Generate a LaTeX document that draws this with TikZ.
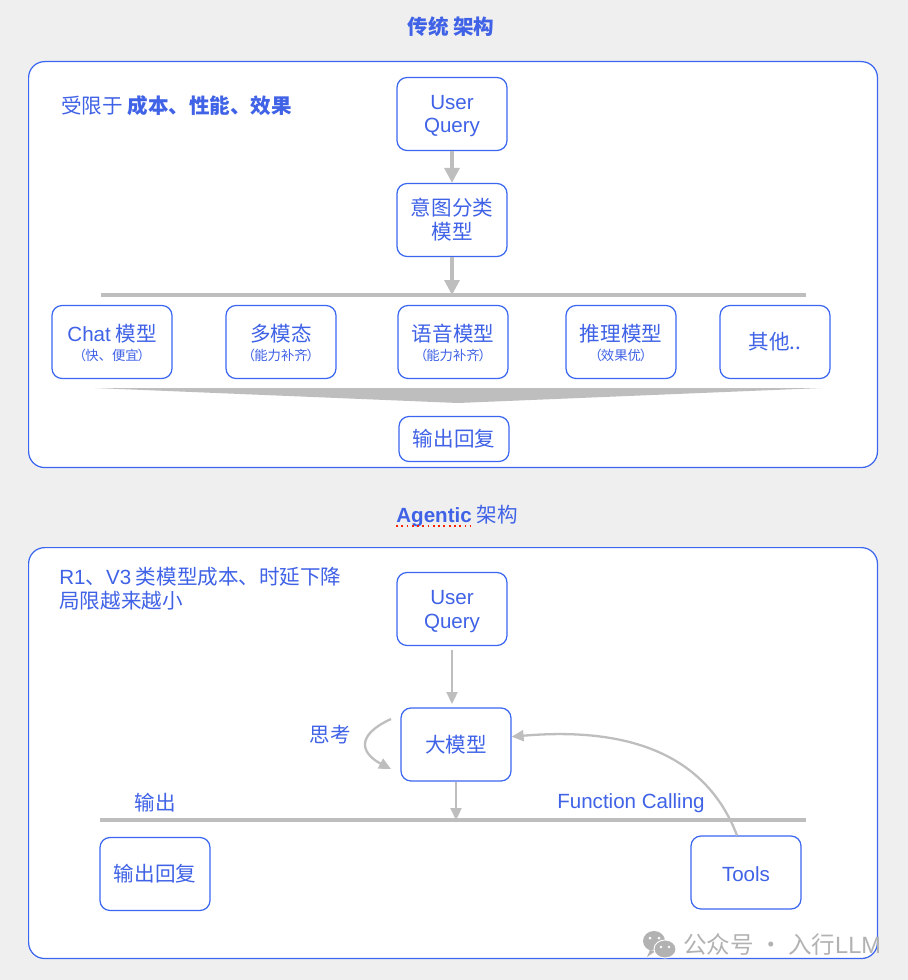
\documentclass[tikz,border=0pt]{standalone}
\usepackage{fontspec}
\setmainfont{Noto Sans CJK SC}
\newfontfamily\latinfont{Liberation Sans}
\usepackage{xcolor}
\usetikzlibrary{arrows.meta,positioning,calc}
\definecolor{lineblue}{HTML}{3B66F0}
\definecolor{textblue}{HTML}{3F62E6}
\definecolor{arrowgray}{HTML}{BEBEBE}
\definecolor{markgray}{HTML}{B2B2B2}
\definecolor{pagegray}{HTML}{EFEFEF}
\newcommand{\subtxt}[1]{{\fontsize{7.6}{9}\selectfont （\kern-0.6pt #1\kern-0.6pt ）}}
\newcommand{\lat}[1]{{\latinfont #1}}
\newcommand{\lowered}[1]{\raisebox{-1.2pt}[\height][\depth]{#1}}

\begin{document}
\begin{tikzpicture}[
        x=0.02cm, y=-0.02cm,
        panel/.style={rectangle, draw=lineblue, fill=white, line width=0.7pt, rounded corners=0.32cm, anchor=north west, inner sep=0pt},
        box/.style={rectangle, draw=lineblue, fill=white, line width=0.7pt, rounded corners=0.2cm, minimum width=2.2cm, minimum height=1.46cm, align=center, inner sep=0pt, text=textblue, font=\fontsize{11.7}{13.6}\selectfont},
        label/.style={text=textblue, inner sep=0pt, font=\fontsize{11.7}{13.6}\selectfont},
        heading/.style={text=textblue, inner sep=0pt, font=\fontsize{11.7}{13.6}\selectfont\bfseries},
        fatarrow/.style={-{Triangle[width=0.3cm,length=0.3cm]}, draw=arrowgray, line width=1.8pt},
        thinarrow/.style={-{Triangle[width=0.22cm,length=0.24cm]}, draw=arrowgray, line width=1.3pt},
        bar/.style={draw=arrowgray, line width=1.9pt}
    ]

    \fill[pagegray] (0,0) rectangle (908,980);
    \useasboundingbox (0,0) rectangle (908,980);

    % Upper panel
    \node[heading] (titleA) at (451,27) {传统 架构};
    \node[panel, minimum width=16.98cm, minimum height=8.12cm] (panelA) at (28,61) {};
    \node[label, anchor=west] (limitA) at (61,106) {受限于 {\bfseries 成本、性能、效果}};

    \node[box] (queryA) at (452,114) {\lowered{\lat{User}}\\\lowered{\lat{Query}}};
    \node[box] (intent) at (452,220) {意图分类\\模型};
    \draw[fatarrow] (queryA.south) -- (intent.north);

    % Bar over the models
    \coordinate (barAl) at (101,295);
    \coordinate (barAr) at (806,295);
    \draw[bar] (barAl) -- (barAr);
    \draw[fatarrow] (intent.south) -- (intent.south |- barAl);

    % Models
    \node[box, minimum width=2.4cm] (chat) at (112,342) {\lowered{\lat{Chat} 模型}\\[-2pt]\subtxt{快、便宜}};
    \node[box] (multi) at (281,342) {\lowered{多模态}\\[-2pt]\subtxt{能力补齐}};
    \node[box] (voice) at (453,342) {\lowered{语音模型}\\[-2pt]\subtxt{能力补齐}};
    \node[box] (reason) at (621,342) {\lowered{推理模型}\\[-2pt]\subtxt{效果优}};
    \node[box] (other) at (775,342) {其他..};

    % Funnel to the output
    \coordinate (funnelL) at (95,388);
    \coordinate (funnelR) at (822,388);
    \coordinate (funnelT) at (458,403);
    \fill[arrowgray] (funnelL) -- (funnelR) -- (funnelT) -- cycle;

    \node[box, minimum height=0.9cm] (outA) at (454,439) {输出回复};

    % Lower panel
    \node[heading] (titleB) at (457,516) {\lat{Agentic} {\mdseries 架构}};
    \draw[red!75!orange, line width=1pt, dotted] ($(titleB.south west)+(0,-1)$) -- ($(titleB.south west)+(75,-1)$);
    \node[panel, minimum width=16.98cm, minimum height=8.22cm] (panelB) at (28,547) {};
    \node[label, anchor=north west, align=left] (limitB) at (59,567) {\lat{R1}、\lat{V3} 类模型成本、时延下降\\局限越来越小};

    \node[box] (queryB) at (452,609) {\lowered{\lat{User}}\\\lowered{\lat{Query}}};
    \node[box] (llm) at (456,744.5) {大模型};
    \draw[thinarrow] ($(queryB.south)+(0,4)$) -- (452,704);

    % Thinking loop
    \node[label] (think) at (330,735) {思考};
    \coordinate (thinkA) at (391,719);
    \coordinate (thinkB) at (391,769);
    \draw[thinarrow] (thinkA) .. controls (352,737) and (364,755) .. (thinkB);

    % Bar under the model
    \coordinate (barBl) at (100,820);
    \coordinate (barBr) at (806,820);
    \draw[bar] (barBl) -- (barBr);
    \draw[thinarrow] (llm.south) -- (llm.south |- barBl);
    \node[label] (outLabel) at (155,803) {输出};
    \node[label] (fcLabel) at (631,803) {\lat{Function Calling}};

    \node[box] (outB) at (155,874) {输出回复};
    \node[box] (tools) at (746,872.5) {\lowered{\lat{Tools}}};
    \draw[thinarrow] ($(tools.north)+(-9,0)$) .. controls (705,752) and (625,727) .. (llm.8);

    % Watermark
    \fill[markgray] (654,941) ellipse (11 and 10) (650,950) -- (647,957) -- (657,950) -- cycle;
    \draw[fill=markgray, draw=white, line width=0.5pt] (665,949) ellipse (11 and 9);
    \fill[white] (650,938) circle (1.5) (659,938) circle (1.5) (661,947) circle (1.4) (669,947) circle (1.4);
    \node[anchor=west, inner sep=0pt, text=markgray, font=\fontsize{13.4}{16}\selectfont] (mark) at (683,945) {公众号 · 入行\lat{LLM}};
\end{tikzpicture}
\end{document}
